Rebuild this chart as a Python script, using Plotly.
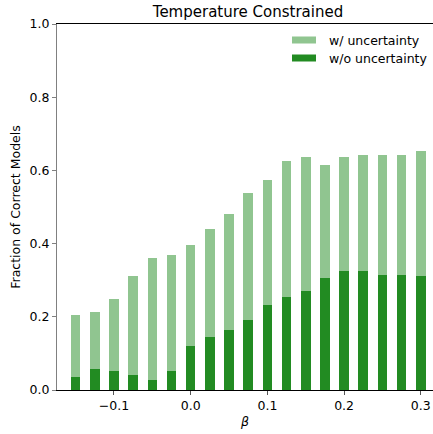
import plotly.graph_objects as go

beta = [-0.15, -0.125, -0.1, -0.075, -0.05, -0.025, 0.0, 0.025, 0.05, 0.075,
        0.1, 0.125, 0.15, 0.175, 0.2, 0.225, 0.25, 0.275, 0.3]
with_unc = [0.205, 0.213, 0.248, 0.311, 0.360, 0.369, 0.396, 0.440, 0.481, 0.538,
            0.574, 0.627, 0.636, 0.615, 0.636, 0.641, 0.641, 0.641, 0.654]
without_unc = [0.036, 0.057, 0.053, 0.040, 0.027, 0.053, 0.119, 0.146, 0.165, 0.191,
               0.232, 0.254, 0.271, 0.307, 0.324, 0.324, 0.315, 0.315, 0.312]
x_ticks = [-0.1, 0.0, 0.1, 0.2, 0.3]
x_ticklabels = ["\u22120.1", "0.0", "0.1", "0.2", "0.3"]
y_ticks = [0.0, 0.2, 0.4, 0.6, 0.8, 1.0]
y_ticklabels = ["0.0", "0.2", "0.4", "0.6", "0.8", "1.0"]

GREEN = "#228B22"
LIGHT = "rgba(34,139,34,0.5)"
FONT = "DejaVu Sans"
FS = 12.5

fig = go.Figure()
fig.add_trace(go.Bar(x=beta, y=with_unc, width=0.0125, name="w/ uncertainty",
                     marker=dict(color=LIGHT, line=dict(width=0)), showlegend=False))
fig.add_trace(go.Bar(x=beta, y=without_unc, width=0.0125, name="w/o uncertainty",
                     marker=dict(color=GREEN, line=dict(width=0)), showlegend=False))

W, H = 433, 434
L, R, T, B = 57, 0, 24, 44

def px(x):
    return (x - L) / (W - L - R)

def py(y):
    return (H - B - y) / (H - T - B)

shapes = [
    dict(type="rect", xref="paper", yref="paper", x0=px(292), x1=px(316), y0=py(43.5), y1=py(36.5),
         fillcolor=LIGHT, line=dict(width=0)),
    dict(type="rect", xref="paper", yref="paper", x0=px(292), x1=px(316), y0=py(61.5), y1=py(54.5),
         fillcolor=GREEN, line=dict(width=0)),
]
annotations = [
    dict(text="w/ uncertainty", xref="paper", yref="paper", x=px(327), y=py(40), xanchor="left",
         yanchor="middle", showarrow=False, font=dict(family=FONT, size=FS, color="#000")),
    dict(text="w/o uncertainty", xref="paper", yref="paper", x=px(327), y=py(58), xanchor="left",
         yanchor="middle", showarrow=False, font=dict(family=FONT, size=FS, color="#000")),
]

fig.update_layout(
    width=W, height=H,
    margin=dict(l=L, r=R, t=T, b=B),
    paper_bgcolor="white", plot_bgcolor="white",
    barmode="overlay", bargap=0,
    font=dict(family=FONT, size=FS, color="#000"),
    title=dict(text="Temperature Constrained", x=248 / W, xref="container", xanchor="center",
               y=1 - 11.5 / H, yref="container", yanchor="middle",
               font=dict(family=FONT, size=15, color="#000")),
    shapes=shapes, annotations=annotations,
    xaxis=dict(range=[-0.1743, 0.3159], tickvals=x_ticks, ticktext=x_ticklabels,
               showgrid=False, zeroline=False, showline=True, linecolor="#000", linewidth=1,
               mirror=True, ticks="outside", ticklen=4, tickcolor="#555",
               title=dict(text="<i>\u03b2</i>", font=dict(family=FONT, size=FS), standoff=5),
               tickfont=dict(family=FONT, size=FS)),
    yaxis=dict(range=[0, 1], tickvals=y_ticks, ticktext=y_ticklabels,
               showgrid=False, zeroline=False, showline=True, linecolor="#808080", linewidth=1,
               ticks="outside", ticklen=4, tickcolor="#808080",
               title=dict(text="Fraction of Correct Models", font=dict(family=FONT, size=FS), standoff=6),
               tickfont=dict(family=FONT, size=FS)),
)

fig.write_html("out.html")
